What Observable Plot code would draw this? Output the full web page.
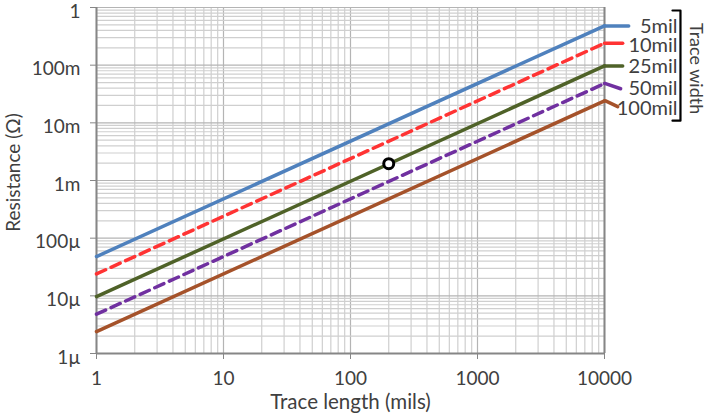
<!DOCTYPE html>
<html><head><meta charset="utf-8">
<script src="https://cdn.jsdelivr.net/npm/d3@7"></script>
<script src="https://cdn.jsdelivr.net/npm/@observablehq/plot@0.6"></script>
<style>body{margin:0;background:#fff} svg{display:block}</style>
</head><body><div id="chart"></div>
<script>
const seriesNames = ["5mil","10mil","25mil","50mil","100mil"];
const seriesColors = ["#4f81bd","#ff3333","#4f6228","#7030a0","#a5522a"];
const seriesDashed = [false,true,false,true,false];
const lengthStart = 1, lengthEnd = 10000;
const resistanceAtStart = [48e-6, 24e-6, 9.7e-6, 4.8e-6, 2.4e-6];
const resistanceAtEnd = [0.48, 0.24, 0.097, 0.048, 0.024];
// leader lines from each line end to its label (data coords beyond the x domain)
const leaderX = [[10000,15500],[10000,13900],[10000,13900],[10000,10200,13400],[10000,10200,12700]];
const leaderY = [[0.48,0.48],[0.24,0.24],[0.097,0.097],[0.048,0.048,0.039],[0.024,0.024,0.0191]];
const labelX = 37600;
const labelY = [0.46, 0.217, 0.093, 0.039, 0.0178];
const xTicks = [1,10,100,1000,10000];
const xTickLabels = ["1","10","100","1000","10000"];
const yTicks = [1e-6,1e-5,1e-4,1e-3,1e-2,1e-1,1];
const yTickLabels = ["1µ","10µ","100µ","1m","10m","100m","1"];
const gridMultipliers = [1,2,3,4,5,6,7,8,9];
const marker = [{x:200, y:0.00196}];
const bracketX = [34300, 39650, 39650, 34300];
const bracketY = [0.887, 0.887, 0.0109, 0.0109];
const groupTitle = {text:"Trace width", x:52100, y:0.087};
const xTitle = "Trace length (mils)";
const yTitle = "Resistance (Ω)";

const xGrid = [];
xTicks.slice(0,-1).forEach(d => gridMultipliers.forEach(m => xGrid.push(d*m)));
xGrid.push(10000);
const yGrid = [];
yTicks.slice(0,-1).forEach(d => gridMultipliers.forEach(m => yGrid.push(d*m)));
yGrid.push(1);

const lines = [];
seriesNames.forEach((s,i) => {
  lines.push({s, x:lengthStart, y:resistanceAtStart[i]});
  lines.push({s, x:lengthEnd, y:resistanceAtEnd[i]});
});
const leaders = [];
seriesNames.forEach((s,i) => leaderX[i].forEach((x,j) => leaders.push({s, x, y:leaderY[i][j]})));
const labels = seriesNames.map((s,i) => ({s, x:labelX, y:labelY[i]}));
const bracket = bracketX.map((x,i) => ({x, y:bracketY[i]}));

const axisColor = "#868686";
const textColor = "#404040";

const marks = [
  Plot.ruleX(xGrid, {stroke: d => xTicks.includes(d) ? "#b4b4b4" : "#cfcfcf", strokeWidth: 1.2}),
  Plot.ruleY(yGrid, {stroke: d => yTicks.includes(d) ? "#b4b4b4" : "#cfcfcf", strokeWidth: 1.2}),
  Plot.ruleX([lengthStart, lengthEnd], {stroke: axisColor, strokeWidth: 2}),
  Plot.ruleY([1e-6], {stroke: axisColor, strokeWidth: 2}),
  Plot.axisX({ticks: xTicks, tickFormat: d => xTickLabels[xTicks.indexOf(d)], tickSize: 6, tickPadding: 12, stroke: axisColor, fill: textColor, fontSize: 19, label: null}),
  Plot.axisY({ticks: yTicks, tickFormat: () => "", tickSize: 6, stroke: axisColor, label: null}),
  Plot.axisY({ticks: yTicks, tickFormat: d => yTickLabels[yTicks.indexOf(d)], tickSize: 0, tickPadding: 16, dy: 4, fill: textColor, fontSize: 19, label: null}),
];
seriesNames.forEach((s,i) => {
  marks.push(Plot.line(lines.filter(d => d.s === s), {x:"x", y:"y", stroke: seriesColors[i], strokeWidth: 3.5, strokeDasharray: seriesDashed[i] ? "10,6" : null}));
  marks.push(Plot.line(leaders.filter(d => d.s === s), {x:"x", y:"y", stroke: seriesColors[i], strokeWidth: 3.5}));
});
marks.push(
  Plot.text(labels, {x:"x", y:"y", text:"s", textAnchor:"end", fill: textColor, fontSize: 20}),
  Plot.line(bracket, {x:"x", y:"y", stroke:"#000", strokeWidth: 2.2}),
  Plot.text([groupTitle], {x:"x", y:"y", text:"text", rotate: 90, fill: textColor, fontSize: 18}),
  Plot.dot(marker, {x:"x", y:"y", r: 5, stroke:"#000", strokeWidth: 3, fill:"#fff"}),
  Plot.text([xTitle], {frameAnchor:"bottom", textAnchor:"middle", dy: 55, fill: textColor, fontSize: 20.5}),
  Plot.text([yTitle], {frameAnchor:"left", textAnchor:"middle", dx: -83, dy: -8, rotate: -90, fill: textColor, fontSize: 19})
);

const chart = Plot.plot({
  width: 708, height: 419,
  marginLeft: 96, marginRight: 104, marginTop: 7, marginBottom: 66,
  x: {type:"log", domain:[1,10000]},
  y: {type:"log", domain:[1e-6,1]},
  style: {fontFamily:"Lato, 'Open Sans', sans-serif", fontSize:"18px", background:"#fff", color: textColor},
  marks
});
document.getElementById("chart").appendChild(chart);
</script></body></html>
